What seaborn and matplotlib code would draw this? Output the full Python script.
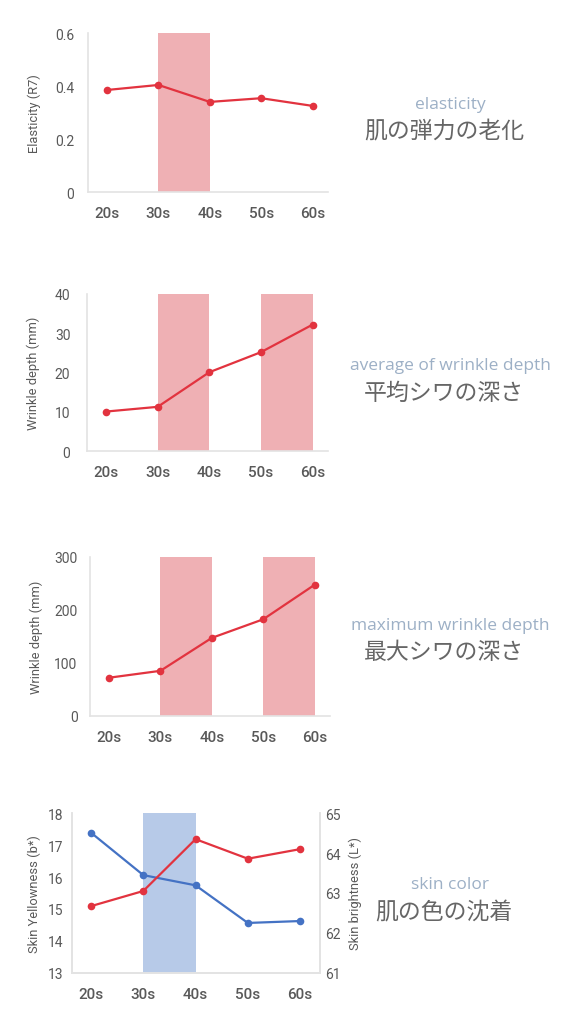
import pandas as pd
import matplotlib
matplotlib.use('Agg')
import matplotlib.pyplot as plt
import seaborn as sns

# data
ages = ['20s', '30s', '40s', '50s', '60s']
elasticity = [0.386, 0.405, 0.341, 0.355, 0.326]
avg_wrinkle = [10.1, 11.3, 20.1, 25.2, 32.2]
max_wrinkle = [72, 85, 147, 182, 247]
yellowness = [17.39, 16.06, 15.74, 14.56, 14.62]
brightness = [62.67, 63.05, 64.35, 63.86, 64.10]

titles_en = ['elasticity', 'average of wrinkle depth', 'maximum wrinkle depth', 'skin color']
titles_ja = ['肌の弾力の老化', '平均シワの深さ', '最大シワの深さ', '肌の色の沈着']

sns.set_theme(style='white')
plt.rcParams['font.family'] = ['Roboto', 'DejaVu Sans']

RED = '#E2333F'
BLUE = '#4472C4'
PINK = '#EFB0B4'
LBLUE = '#B7CAE8'
TXT = '#595959'
SPINE = '#E3E3E3'

fig = plt.figure(figsize=(5.8, 10.2), dpi=100)


def style_axis(ax, ticks, labels, ylabel, label_x, ypad=10,
               spines=('left', 'bottom')):
    for s in ['left', 'right', 'top', 'bottom']:
        ax.spines[s].set_visible(s in spines)
        ax.spines[s].set_color(SPINE)
        ax.spines[s].set_linewidth(1.2)
    ax.set_xlim(-0.37, 4.3)
    ax.set_ylim(ticks[0], ticks[-1])
    ax.set_yticks(ticks)
    ax.set_yticklabels(labels)
    ax.set_xticks(range(len(ages)))
    ax.set_xticklabels(ages)
    ax.tick_params(axis='y', length=0, pad=ypad, labelsize=10, labelcolor=TXT)
    ax.tick_params(axis='x', length=0, pad=10, labelsize=11, labelcolor=TXT)
    for t in ax.get_xticklabels():
        t.set_fontweight('medium')
    ax.set_xlabel('')
    ax.set_ylabel(ylabel, fontsize=9.3, color=TXT)
    ax.yaxis.set_label_coords(label_x, 0.5)


def draw_line(ax, values, color):
    df = pd.DataFrame({'age': ages, 'value': values})
    sns.lineplot(data=df, x='age', y='value', ax=ax, color=color, marker='o',
                 markersize=5.5, markeredgewidth=0, linewidth=1.6, sort=False)


# panel 1
ax1 = fig.add_axes([0.1517, 0.8105, 0.4138, 0.1559])
ax1.axvspan(1, 2, color=PINK, lw=0)
draw_line(ax1, elasticity, RED)
style_axis(ax1, [0, 0.2, 0.4, 0.6], ['0', '0.2', '0.4', '0.6'], 'Elasticity (R7)', -0.196)

# panel 2
ax2 = fig.add_axes([0.150, 0.5566, 0.4155, 0.1542])
ax2.axvspan(1, 2, color=PINK, lw=0)
ax2.axvspan(3, 4, color=PINK, lw=0)
draw_line(ax2, avg_wrinkle, RED)
style_axis(ax2, [0, 10, 20, 30, 40], ['0', '10', '20', '30', '40'], 'Wrinkle depth (mm)',
           -0.196, ypad=12)

# panel 3
ax3 = fig.add_axes([0.1552, 0.2971, 0.4138, 0.1562])
ax3.axvspan(1, 2, color=PINK, lw=0)
ax3.axvspan(3, 4, color=PINK, lw=0)
draw_line(ax3, max_wrinkle, RED)
style_axis(ax3, [0, 100, 200, 300], ['0', '100', '200', '300'], 'Wrinkle depth (mm)',
           -0.196, ypad=9)

# panel 4 with twin axis
ax4 = fig.add_axes([0.1236, 0.0454, 0.4281, 0.1563])
ax4.axvspan(1, 2, color=LBLUE, lw=0)
draw_line(ax4, yellowness, BLUE)
style_axis(ax4, [13, 14, 15, 16, 17, 18], [str(v) for v in range(13, 19)],
           'Skin Yellowness (b*)', -0.123, ypad=6,
           spines=('left', 'bottom', 'right'))
ax4b = ax4.twinx()
draw_line(ax4b, brightness, RED)
style_axis(ax4b, [61, 62, 63, 64, 65], [str(v) for v in range(61, 66)],
           'Skin brightness (L*)', 1.114, ypad=4,
           spines=('left', 'bottom', 'right'))
ax4b.set_xlim(-0.37, 4.38)
ax4.set_xlim(-0.37, 4.38)

# right-hand titles
title_pos = [(105, 132), (366, 393), (626, 653), (885, 913)]
for (y_en, y_ja), en, ja in zip(title_pos, titles_en, titles_ja):
    fig.text(450 / 580, 1 - y_en / 1020, en, ha='center', va='center',
             fontsize=12.5, color='#9DB0C6', family=['Open Sans', 'DejaVu Sans'])
    fig.text(444 / 580, 1 - y_ja / 1020, ja, ha='center', va='center',
             fontsize=16.5, color='#666666', family=['Noto Sans CJK JP', 'DejaVu Sans'])

fig.savefig('out.png', dpi=100)
